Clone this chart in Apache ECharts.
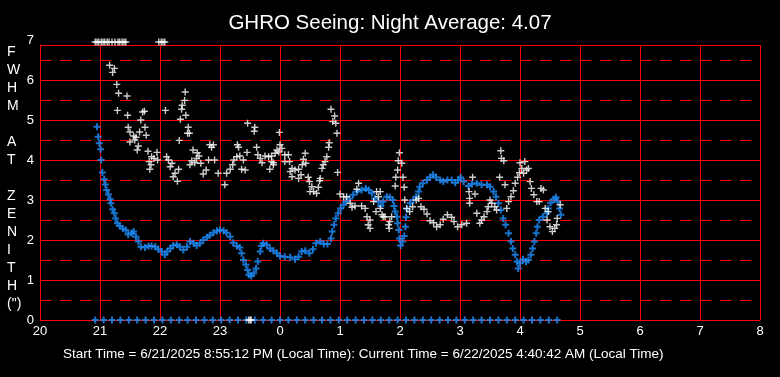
<!DOCTYPE html>
<html>
<head>
<meta charset="utf-8">
<title>GHRO Seeing</title>
<script src="https://cdn.jsdelivr.net/npm/echarts@6/dist/echarts.min.js"></script>
<style>
  html, body { margin: 0; padding: 0; background: #000; }
  #chart { width: 780px; height: 377px; }
</style>
</head>
<body>
<div id="chart"></div>
<script>
// times are decimal hours from 20:00 (values past 24 are after midnight)
const seeingData = [
  [21.16, 6.37], [21.24, 6.29], [21.21, 6.19], [21.28, 5.89], [21.31, 5.67], [21.45, 5.6],
  [21.29, 5.24], [21.46, 5.12], [21.68, 5.0], [21.71, 5.2], [21.74, 5.22], [22.09, 5.24],
  [22.42, 5.7], [22.41, 5.49], [22.37, 5.37], [22.36, 5.27], [22.43, 5.12], [22.34, 5.02],
  [21.47, 4.82], [21.75, 4.82], [22.47, 4.82], [21.5, 4.7], [21.66, 4.7], [21.77, 4.62],
  [21.56, 4.6], [21.6, 4.57], [21.58, 4.5], [21.5, 4.45], [22.46, 4.67], [22.49, 4.67],
  [22.32, 4.49], [21.64, 4.35], [21.62, 4.25], [21.8, 4.22], [21.95, 4.19], [21.86, 4.08],
  [21.9, 4.04], [21.96, 4.0], [21.82, 3.96], [21.85, 3.88], [21.83, 3.77], [22.11, 4.08],
  [22.14, 4.0], [22.2, 3.92], [22.17, 3.83], [22.31, 3.77], [22.25, 3.67], [22.22, 3.58],
  [22.29, 3.47], [22.55, 4.25], [22.62, 4.18], [22.65, 4.1], [22.61, 4.04], [22.53, 3.98],
  [22.5, 3.88], [22.58, 3.93], [22.68, 3.92], [22.72, 3.65], [22.77, 3.75], [22.83, 4.38],
  [22.86, 4.32], [22.89, 4.38], [22.81, 4.0], [22.91, 4.0], [22.97, 3.67], [23.08, 3.38],
  [23.11, 3.67], [23.17, 3.77], [23.21, 3.88], [23.23, 4.0], [23.28, 4.08], [23.33, 4.1],
  [23.29, 4.38], [23.31, 4.32], [23.45, 4.19], [23.61, 4.32], [23.39, 4.0], [23.36, 3.77],
  [23.42, 3.75], [23.46, 4.92], [23.58, 4.82], [23.57, 4.72], [23.63, 4.13], [23.67, 4.04],
  [23.7, 3.93], [23.75, 4.1], [23.81, 4.08], [23.86, 4.1], [23.89, 3.93], [23.83, 3.77],
  [23.95, 4.25], [23.98, 4.2], [23.99, 4.69], [24.0, 4.38], [24.03, 4.29], [23.92, 4.17],
  [24.08, 4.13], [24.14, 4.13], [24.42, 4.17], [23.86, 3.96], [23.89, 3.88], [24.08, 3.96],
  [24.16, 3.96], [24.39, 4.02], [24.43, 3.92], [24.37, 3.88], [24.78, 4.08], [24.75, 3.96],
  [24.72, 3.88], [24.7, 3.79], [24.2, 3.79], [24.25, 3.75], [24.31, 3.77], [24.17, 3.71],
  [24.35, 3.63], [24.2, 3.58], [24.31, 3.54], [24.47, 3.57], [24.67, 3.54], [24.66, 3.48],
  [24.49, 3.46], [24.53, 3.33], [24.64, 3.32], [24.5, 3.21], [24.56, 3.21], [24.61, 3.17],
  [24.85, 5.27], [24.91, 5.1], [24.88, 4.96], [24.93, 4.92], [24.95, 4.67], [24.82, 4.43],
  [24.81, 4.32], [24.96, 3.69], [25.31, 3.42], [25.28, 3.27], [25.0, 3.15], [25.06, 3.08],
  [25.11, 3.08], [25.17, 2.92], [25.25, 2.85], [25.36, 2.85], [25.42, 2.79], [25.2, 2.82],
  [25.61, 3.21], [25.64, 3.08], [25.56, 2.96], [25.67, 2.79], [25.6, 2.71], [25.45, 2.58],
  [25.5, 2.5], [25.47, 2.38], [25.5, 2.29], [25.7, 2.63], [25.75, 2.58], [25.81, 2.38],
  [25.82, 2.29], [25.86, 2.58], [25.72, 2.58], [25.83, 2.46], [25.67, 3.21], [25.99, 4.18],
  [25.97, 3.98], [26.03, 3.92], [25.96, 3.75], [25.93, 3.57], [26.05, 3.57], [25.92, 3.35],
  [26.07, 3.32], [26.08, 3.0], [26.11, 2.79], [26.16, 2.71], [26.21, 2.83], [26.27, 3.0],
  [26.31, 3.04], [26.35, 2.83], [26.4, 2.77], [26.45, 2.65], [26.5, 2.48], [26.56, 2.43],
  [26.61, 2.33], [26.67, 2.38], [26.72, 2.52], [26.79, 2.63], [26.86, 2.57], [26.9, 2.46],
  [26.96, 2.33], [27.03, 2.38], [27.11, 2.42], [27.16, 2.92], [27.16, 3.04], [27.15, 3.21],
  [27.21, 3.57], [27.25, 3.15], [27.28, 2.67], [27.33, 2.42], [27.36, 2.5], [27.4, 2.58],
  [27.45, 2.71], [27.47, 2.83], [27.5, 3.0], [27.53, 2.92], [27.58, 2.83], [27.61, 2.75],
  [27.66, 3.57], [27.68, 4.23], [27.69, 4.04], [27.73, 3.98], [27.75, 3.38], [27.78, 2.79],
  [27.81, 2.96], [27.85, 3.08], [27.89, 3.23], [27.92, 3.42], [27.96, 3.57], [27.99, 3.68],
  [28.0, 3.93], [28.08, 3.96], [28.11, 3.75], [28.03, 3.79], [28.06, 3.67], [28.14, 3.79],
  [28.17, 3.46], [28.19, 3.29], [28.23, 3.13], [28.28, 2.96], [28.32, 2.96], [28.35, 3.29],
  [28.39, 3.25], [28.42, 2.79], [28.47, 2.71], [28.45, 2.5], [28.5, 2.33], [28.54, 2.21],
  [28.58, 2.29], [28.61, 2.38], [28.67, 2.88], [28.62, 2.54]
];

// seeing readings pinned at the top of the scale
const seeingHighTimes = [20.92, 20.95, 20.98, 21.02, 21.05, 21.08, 21.12, 21.15, 21.2, 21.25,
  21.3, 21.33, 21.37, 21.4, 21.43, 21.98, 22.02, 22.05, 22.08];
const seeingHighValue = 6.95;
const seeingZeroTimes = [23.48, 23.5, 23.52];

const blueData = [
  [20.95, 4.83], [20.97, 4.58], [20.99, 4.42], [21.01, 4.27], [21.02, 4.0], [21.04, 3.69],
  [21.07, 3.52], [21.09, 3.39], [21.11, 3.25], [21.14, 3.14], [21.17, 3.02], [21.18, 2.92],
  [21.21, 2.77], [21.24, 2.67], [21.26, 2.54], [21.29, 2.42], [21.33, 2.35], [21.38, 2.29],
  [21.43, 2.25], [21.47, 2.14], [21.53, 2.17], [21.56, 2.21], [21.6, 2.08], [21.64, 1.96],
  [21.68, 1.83], [21.75, 1.81], [21.81, 1.85], [21.86, 1.85], [21.92, 1.83], [21.97, 1.77],
  [22.03, 1.71], [22.08, 1.63], [22.12, 1.71], [22.17, 1.79], [22.22, 1.86], [22.28, 1.88],
  [22.33, 1.83], [22.39, 1.75], [22.45, 1.83], [22.5, 1.96], [22.56, 1.92], [22.61, 1.86],
  [22.67, 1.92], [22.72, 2.0], [22.78, 2.07], [22.83, 2.12], [22.89, 2.18], [22.95, 2.23],
  [23.0, 2.25], [23.06, 2.23], [23.11, 2.18], [23.17, 2.08], [23.22, 1.93], [23.28, 1.85],
  [23.33, 1.81], [23.36, 1.67], [23.39, 1.5], [23.43, 1.38], [23.46, 1.25], [23.48, 1.13],
  [23.52, 1.1], [23.56, 1.17], [23.6, 1.29], [23.63, 1.46], [23.67, 1.71], [23.69, 1.85],
  [23.72, 1.92], [23.78, 1.88], [23.83, 1.79], [23.89, 1.73], [23.95, 1.67], [24.0, 1.6],
  [24.08, 1.58], [24.17, 1.57], [24.25, 1.52], [24.31, 1.58], [24.36, 1.71], [24.42, 1.73],
  [24.49, 1.67], [24.55, 1.77], [24.6, 1.92], [24.67, 1.96], [24.73, 1.9], [24.79, 1.9],
  [24.85, 2.04], [24.87, 2.21], [24.9, 2.38], [24.93, 2.54], [24.97, 2.67], [25.01, 2.79],
  [25.06, 2.88], [25.1, 2.96], [25.16, 3.04], [25.22, 3.13], [25.29, 3.21], [25.36, 3.25],
  [25.43, 3.29], [25.48, 3.25], [25.53, 3.17], [25.58, 3.04], [25.64, 2.96], [25.68, 2.85],
  [25.72, 2.96], [25.78, 3.08], [25.83, 3.07], [25.88, 3.0], [25.9, 2.85], [25.92, 2.71],
  [25.95, 2.58], [25.96, 2.42], [25.98, 2.25], [25.99, 2.04], [26.01, 1.86], [26.04, 1.96],
  [26.07, 2.1], [26.09, 2.33], [26.1, 2.57], [26.12, 2.77], [26.17, 2.92], [26.22, 3.0],
  [26.27, 3.08], [26.31, 3.21], [26.33, 3.33], [26.38, 3.42], [26.45, 3.5], [26.5, 3.57],
  [26.55, 3.63], [26.6, 3.57], [26.67, 3.5], [26.72, 3.46], [26.79, 3.5], [26.86, 3.5],
  [26.92, 3.43], [26.97, 3.5], [27.01, 3.56], [27.06, 3.46], [27.14, 3.35], [27.2, 3.4],
  [27.28, 3.42], [27.36, 3.38], [27.45, 3.38], [27.5, 3.33], [27.56, 3.21], [27.6, 3.08],
  [27.64, 2.92], [27.68, 2.75], [27.72, 2.54], [27.76, 2.38], [27.81, 2.17], [27.85, 1.96],
  [27.88, 1.79], [27.92, 1.63], [27.95, 1.46], [27.97, 1.29], [28.0, 1.42], [28.05, 1.52],
  [28.1, 1.46], [28.14, 1.5], [28.18, 1.63], [28.21, 1.79], [28.24, 1.96], [28.27, 2.17],
  [28.29, 2.33], [28.32, 2.5], [28.38, 2.58], [28.45, 2.67], [28.47, 2.79], [28.51, 2.93],
  [28.56, 3.02], [28.6, 3.07], [28.63, 2.96], [28.66, 2.79], [28.68, 2.63]
];

// blue readings sitting on the zero line
const blueZeroTimes = [20.92, 21.06, 21.2, 21.34, 21.48, 21.62, 21.76, 21.9, 22.04, 22.18,
  22.32, 22.46, 22.6, 22.74, 22.88, 23.02, 23.16, 23.3, 23.44, 23.58, 23.72, 23.86, 24.0,
  24.14, 24.28, 24.42, 24.56, 24.7, 24.84, 24.98, 25.12, 25.26, 25.4, 25.54, 25.68, 25.82,
  25.96, 26.1, 26.24, 26.38, 26.52, 26.66, 26.8, 26.94, 27.08, 27.22, 27.36, 27.5, 27.64,
  27.78, 27.92, 28.06, 28.2, 28.34, 28.48, 28.62];

const titleText = "GHRO Seeing: Night Average: 4.07";
const footText = "Start Time = 6/21/2025 8:55:12 PM (Local Time): Current Time = 6/22/2025 4:40:42 AM (Local Time)";
const yName = "F\nW\nH\nM\n\nA\nT\n\nZ\nE\nN\nI\nT\nH\n(\")";

const whitePlus = "path://M2.8,0H4.2V2.8H7V4.2H4.2V7H2.8V4.2H0V2.8H2.8Z";
const bluePlus = "path://M2.5,0H4.5V2.5H7V4.5H4.5V7H2.5V4.5H0V2.5H2.5Z";
const FONT = "Liberation Sans, Arial, sans-serif";
const RED = "#ff0000";
const BLUE = "#1e90ff";

const chart = echarts.init(document.getElementById("chart"));

function plusSeries(data, symbol, size, color) {
  return {
    type: "scatter",
    xAxisIndex: 0,
    yAxisIndex: 0,
    symbol: symbol,
    symbolSize: size,
    clip: false,
    itemStyle: { color: color },
    emphasis: { disabled: true },
    data: data
  };
}

const option = {
  backgroundColor: "#000",
  animation: false,
  title: {
    text: titleText,
    left: "center",
    top: 8,
    textStyle: { color: "#fff", fontSize: 20.5, fontWeight: "normal", fontFamily: FONT }
  },
  graphic: [
    {
      type: "text",
      left: 7,
      top: 43,
      style: {
        text: yName,
        fill: "#fff",
        font: "14px " + FONT,
        lineHeight: 18,
        align: "center"
      }
    },
    {
      type: "text",
      left: 63,
      top: 347,
      style: { text: footText, fill: "#fff", font: "13.5px " + FONT }
    }
  ],
  grid: [
    { left: 40, right: 20, top: 45, bottom: 57 },
    { left: 40, right: 20, top: 40, bottom: 57 }
  ],
  xAxis: [
    {
      gridIndex: 0,
      type: "value",
      min: 20,
      max: 32,
      interval: 1,
      axisLine: { lineStyle: { color: RED, width: 1 } },
      axisTick: { show: false },
      axisLabel: {
        color: "#fff",
        fontSize: 13,
        fontFamily: FONT,
        margin: 5,
        formatter: v => String(v % 24)
      },
      splitLine: { show: true, lineStyle: { color: RED, width: 1 } }
    },
    { gridIndex: 1, type: "value", min: 20, max: 32, show: false }
  ],
  yAxis: [
    {
      gridIndex: 0,
      type: "value",
      min: 0,
      max: 6.875,
      interval: 1,
      axisLine: { show: true, lineStyle: { color: RED, width: 1 } },
      axisTick: { show: false },
      axisLabel: { show: false },
      splitLine: { show: true, lineStyle: { color: RED, width: 1 } }
    },
    {
      gridIndex: 0,
      type: "value",
      min: 0,
      max: 6.875,
      interval: 0.5,
      axisLine: { show: false },
      axisTick: { show: false },
      axisLabel: { show: false },
      splitLine: { show: true, showMaxLine: false, lineStyle: { color: RED, width: 1, type: [11, 9] } }
    },
    {
      gridIndex: 1,
      type: "value",
      min: 0,
      max: 7,
      interval: 1,
      axisLine: { show: false },
      axisTick: { show: false },
      splitLine: { show: false },
      axisLabel: { color: "#fff", fontSize: 13, fontFamily: FONT, margin: 6 }
    }
  ],
  series: [
    plusSeries(blueData, bluePlus, 7, BLUE),
    plusSeries(blueZeroTimes.map(t => [t, 0]), bluePlus, 7, BLUE),
    plusSeries(seeingData, whitePlus, 7, "#fff"),
    plusSeries(seeingHighTimes.map(t => [t, seeingHighValue]), whitePlus, 7, "#fff"),
    plusSeries(seeingZeroTimes.map(t => [t, 0]), whitePlus, 7, "#fff")
  ]
};

chart.setOption(option);
</script>
</body>
</html>
